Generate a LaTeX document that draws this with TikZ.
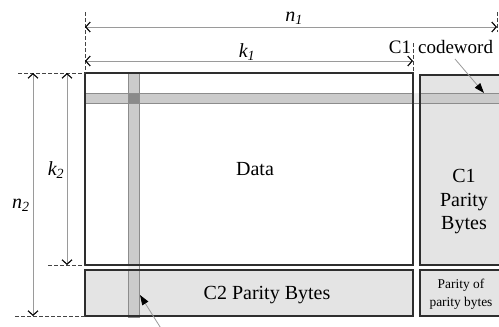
\documentclass[tikz,border=0pt]{standalone}
\usepackage{fontspec}
\setmainfont{Liberation Serif}[Ligatures=TeX]
\usetikzlibrary{arrows.meta}
\definecolor{boxline}{HTML}{2E2E2E}
\definecolor{parityfill}{HTML}{E4E4E4}
\definecolor{stripefill}{HTML}{CBCBCB}
\definecolor{stripeline}{HTML}{8C8C8C}
\definecolor{gapfill}{HTML}{EDEDED}
\definecolor{crossfill}{HTML}{8A8A8A}
\definecolor{dimline}{HTML}{9A9A9A}
\definecolor{dashcol}{HTML}{444444}
\tikzset{
  blk/.style={line width=1.5pt, inner sep=0pt, outer sep=0pt, anchor=north west},
  outline/.style={draw=boxline, line width=1.5pt},
  stripe/.style={fill=stripefill, draw=stripeline, line width=0.7pt},
  bigtxt/.style={font=\rmfamily\fontsize{20}{23.5}\selectfont, align=center, inner sep=0pt},
  smalltxt/.style={font=\rmfamily\fontsize{13.4}{18}\selectfont, align=center, inner sep=0pt},
  dimlabel/.style={font=\rmfamily\fontsize{20}{24}\selectfont\itshape, inner sep=0pt},
  dimarrow/.style={draw=dimline, line width=0.8pt,
    {Straight Barb[length=4.5pt,width=10pt,color=black,line width=1.1pt]}-{Straight Barb[length=4.5pt,width=10pt,color=black,line width=1.1pt]}},
  guide/.style={draw=dashcol, line width=0.8pt, dash pattern=on 3.5pt off 2.5pt},
  pointer/.style={draw=dimline, line width=0.8pt, -{Triangle[length=10pt,width=7pt,color=black]}}
}
\begin{document}
\begin{tikzpicture}[x=1pt,y=-1pt]
\useasboundingbox (0,0) rectangle (499,327);
\clip (0,0) rectangle (499,327);

% boxes (fills)
\node[blk, fill=white, minimum width=328pt, minimum height=192pt] (data) at (85,73) {};
\node[blk, fill=parityfill, minimum width=90pt, minimum height=190pt] (c1box) at (420,75) {};
\node[blk, fill=parityfill, minimum width=328pt, minimum height=46pt] (c2box) at (85,270) {};
\node[blk, fill=parityfill, minimum width=90pt, minimum height=46pt] (ppbox) at (420,270) {};

% codeword stripes
\draw[stripe] (85,93) rectangle (510,103);
\draw[stripe] (128,73) rectangle (139,317);
\fill[gapfill] (413.8,93.4) rectangle (419.2,102.6);
\fill[gapfill] (128.4,265.8) rectangle (138.6,269.2);
\draw[fill=crossfill, draw=stripeline, line width=0.7pt] (128,93) rectangle (139,103);

% box outlines on top
\draw[outline] (data.north west) rectangle (data.south east);
\draw[outline] (c1box.north west) rectangle (c1box.south east);
\draw[outline] (c2box.north west) rectangle (c2box.south east);
\draw[outline] (ppbox.north west) rectangle (ppbox.south east);

% texts
\node[bigtxt] (datatxt) at (255,169) {Data};
\node[bigtxt] (c1txt) at (464,202) {C1\\Parity\\Bytes};
\node[bigtxt] (c2txt) at (267,295) {C2 Parity Bytes};
\node[smalltxt] (pptxt) at (461,294) {Parity of\\parity bytes};

% guide coordinates
\coordinate (gTopL) at (85,12);
\coordinate (gTopR) at (413,43);
\coordinate (gTopRR) at (497,12);
\coordinate (gTopRRb) at (497,32);
\coordinate (gL73) at (18,73);
\coordinate (gL265) at (48,265);
\coordinate (gL316) at (15,316);

\draw[guide] (gTopL) -- (data.north west);
\draw[guide] (gTopR) -- (data.north east);
\draw[guide] (gTopRR) -- (gTopRRb);
\draw[guide] (gL73) -- (data.north west);
\draw[guide] (gL265) -- (data.south west);
\draw[guide] (gL316) -- (c2box.south west);

% dimension arrows
\coordinate (n1a) at (85,27);
\coordinate (n1b) at (497,27);
\coordinate (k1a) at (85,61);
\coordinate (k1b) at (413,61);
\coordinate (n2a) at (33,73);
\coordinate (n2b) at (33,316);
\coordinate (k2a) at (67,73);
\coordinate (k2b) at (67,265);
\draw[dimarrow] (n1a) -- (n1b);
\draw[dimarrow] (k1a) -- (k1b);
\draw[dimarrow] (n2a) -- (n2b);
\draw[dimarrow] (k2a) -- (k2b);

\node[dimlabel] (n1lbl) at (294,18) {n\textsubscript{1}};
\node[dimlabel] (k1lbl) at (247,52) {k\textsubscript{1}};
\node[dimlabel] (k2lbl) at (56,170) {k\textsubscript{2}};
\node[dimlabel] (n2lbl) at (21,205) {n\textsubscript{2}};

% codeword pointers
\node[font=\rmfamily\fontsize{19}{22}\selectfont, inner sep=0pt] (cwlbl) at (441,47) {C1\hspace{7pt}codeword};
\coordinate (cwtail) at (455,59);
\coordinate (cwtip) at (484,93);
\draw[pointer] (cwtail) -- (cwtip);
\coordinate (c2tail) at (162,330);
\coordinate (c2tip) at (140,295);
\draw[pointer] (c2tail) -- (c2tip);
\end{tikzpicture}
\end{document}
